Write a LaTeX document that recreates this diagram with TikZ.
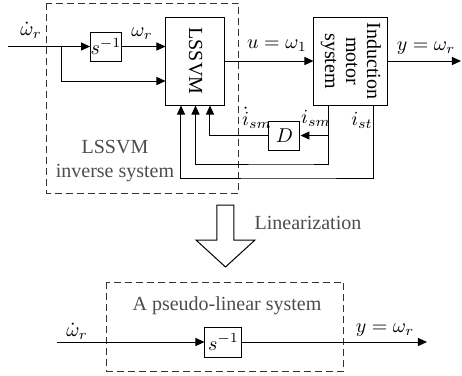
\documentclass[tikz,border=0pt]{standalone}
\usepackage{fontspec}
\setmainfont{Liberation Serif}
\usetikzlibrary{arrows.meta,positioning,calc}
\colorlet{grtext}{black!70}
\tikzset{
  block/.style={draw, line width=0.5pt, inner sep=0pt, fill=white},
  dashbox/.style={draw=black!80, line width=0.5pt, dash pattern=on 3.5pt off 2pt},
  line/.style={-{Triangle[length=4.5pt,width=4pt]}, line width=0.5pt},
  lab/.style={inner sep=0pt}
}

\begin{document}
\begin{tikzpicture}[x=0.5pt,y=-0.5pt]
  \useasboundingbox (0,0) rectangle (462,376);
  % upper part: inverse system in front of the motor
  \draw[dashbox] (47,3) rectangle (239,193);
  \node[block, minimum width=15pt, minimum height=14.5pt] (sinv) at (106,46.5) {$s^{-1}$};
  \node[block, minimum width=29.5pt, minimum height=44pt] (lssvm) at (195.5,61) {\rotatebox{-90}{LSSVM}};
  \node[block, minimum width=37pt, minimum height=44pt] (motor) at (351,61)
    {\rotatebox{-90}{\begin{tabular}{@{}c@{}}Induction\\[-1.5pt] motor\\[-1.5pt] system\end{tabular}}};
  \node[block, minimum width=15.5pt, minimum height=14.5pt] (dblk) at (284.5,135.5) {$D$};

  \coordinate (in) at (8,46.5);
  \coordinate (split) at (62,46.5);
  \coordinate (yout) at (461,61);
  \coordinate (fb2) at (300,164);
  \coordinate (fb3) at (300,178);

  \draw[line] (in) -- (sinv);
  \draw[line] (sinv) -- (sinv -| lssvm.west);
  \draw[line] (split) |- ([yshift=-10pt]lssvm.west);
  \draw[line] (lssvm) -- (motor);
  \draw[line] (motor) -- (yout);
  % feedback of the currents
  \draw[line] ([xshift=-11pt]motor.south) |- (dblk);
  \draw[line] (dblk) -| ([xshift=7.25pt]lssvm.south);
  \draw[line] ([xshift=-11pt]motor.south) |- (fb2) -| (lssvm.south);
  \draw[line] ([xshift=11.5pt]motor.south) |- (fb3) -| ([xshift=-7.25pt]lssvm.south);

  \node[lab] (wdot) at (31,30) {$\dot{\omega}_r$};
  \node[lab] (wr) at (142,34) {$\omega_r$};
  \node[lab] (ulab) at (277,46) {$u=\omega_1$};
  \node[lab] (ylab) at (426,48) {$y=\omega_r$};
  \node[lab] (isdot) at (257,118) {$\dot{i}_{sm}$};
  \node[lab] (ism) at (316,118) {$i_{sm}$};
  \node[lab] (ist) at (362,120) {$i_{st}$};
  \node[lab, text=grtext, align=center] (invlab) at (115,161) {LSSVM\\inverse system};

  % lower part: the pseudo-linear system
  \draw[fill=white, line width=0.5pt] (217,205) -- (234,205) -- (234,240) -- (255,240)
    -- (225.5,267) -- (196,240) -- (217,240) -- cycle;
  \node[lab, text=grtext] (linlab) at (308,223) {Linearization};
  \draw[dashbox] (107,282) rectangle (344,371);
  \node[lab, text=grtext] (pslab) at (227,306) {A pseudo-linear system};
  \node[block, minimum width=18.5pt, minimum height=15pt] (sinv2) at (223.5,342) {$s^{-1}$};
  \coordinate (in2) at (57,342);
  \coordinate (out2) at (427,342);
  \draw[line] (in2) -- (sinv2);
  \draw[line] (sinv2) -- (out2);
  \node[lab] (wdot2) at (77,331) {$\dot{\omega}_r$};
  \node[lab] (ylab2) at (385,330) {$y=\omega_r$};
\end{tikzpicture}
\end{document}
